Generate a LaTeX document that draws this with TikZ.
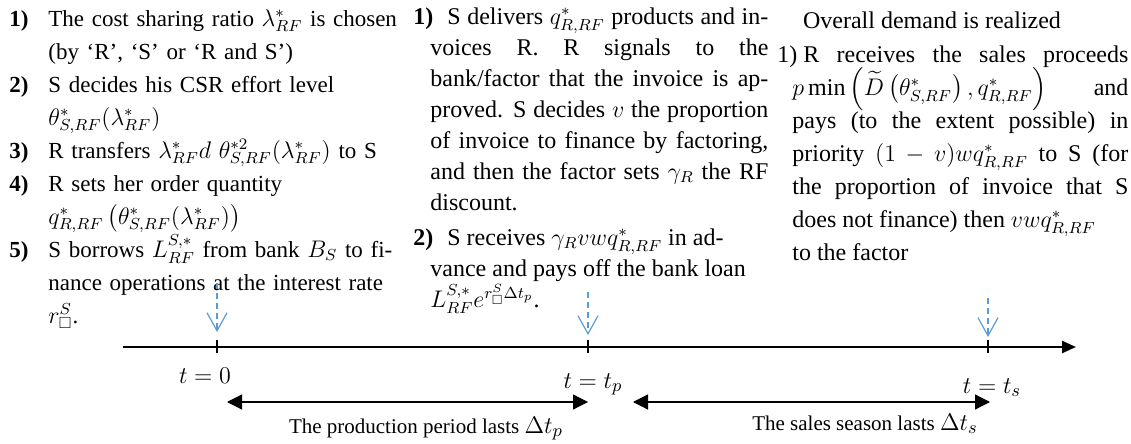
\documentclass[tikz,border=0pt]{standalone}
\usepackage{amsmath,amssymb}
\usepackage{fontspec}
\setmainfont{Liberation Serif}
\usetikzlibrary{arrows.meta, positioning}
\definecolor{eventblue}{RGB}{91,155,213}
\newcommand{\stepitem}[3]{\noindent\hangindent=#2\hangafter=1\makebox[#1][l]{#3}}

\begin{document}
\begin{tikzpicture}[x=0.5pt, y=-0.5pt,
        coltext/.style={inner sep=0pt, anchor=north west},
        axis/.style={line width=1.2pt, -{Triangle[length=7pt,width=6pt]}},
        tick/.style={line width=0.6pt},
        event/.style={eventblue, line width=0.6pt, dash pattern=on 3pt off 2pt, -{Straight Barb[length=9pt,width=10pt]}},
        span/.style={line width=0.6pt, {Triangle[length=7.5pt,width=7.5pt]}-{Triangle[length=7.5pt,width=7.5pt]}},
        timelbl/.style={anchor=base, inner sep=0pt, font=\fontsize{13}{13}\selectfont},
        spanlbl/.style={anchor=base, inner sep=0pt, font=\fontsize{10.5}{12}\selectfont}]
        \useasboundingbox (0,0) rectangle (1131,444);

        \node[coltext, text width=200pt, align=left, font=\fontsize{11.5}{16.5}\selectfont] (setup) at (9,9) {%
            \stepitem{19.5pt}{19.5pt}{\textbf{1)}}The cost sharing ratio $\lambda^*_{RF}$ is chosen\newline (by `R', `S' or `R and S')\par
            \stepitem{19.5pt}{19.5pt}{\textbf{2)}}S decides his CSR effort level\newline $\theta^*_{S,RF}(\lambda^*_{RF})$\par
            \stepitem{19.5pt}{19.5pt}{\textbf{3)}}R transfers $\lambda^*_{RF}d\ \theta^{*2}_{S,RF}(\lambda^*_{RF})$ to S\par
            \stepitem{19.5pt}{19.5pt}{\textbf{4)}}R sets her order quantity\newline $q^*_{R,RF}\left(\theta^*_{S,RF}(\lambda^*_{RF})\right)$\par
            \stepitem{19.5pt}{19.5pt}{\textbf{5)}}S borrows $L^{S,*}_{RF}$ from bank $B_S$ to fi-\newline nance operations at the interest rate\newline $r^S_{\square}$.\par};

        \node[coltext, text width=177.5pt, align=justify, font=\fontsize{12}{15.5}\selectfont] (production) at (413,7) {%
            \stepitem{17pt}{8.5pt}{\textbf{1)}}S delivers $q^*_{R,RF}$ products and in-\linebreak voices R. R signals to the\linebreak bank/factor that the invoice is ap-\linebreak proved. S decides $v$ the proportion\linebreak of invoice to finance by factoring,\linebreak and then the factor sets $\gamma_R$ the RF\linebreak discount.\par
            \vspace{2pt}
            \stepitem{17pt}{8.5pt}{\textbf{2)}}S receives $\gamma_R v w q^*_{R,RF}$ in ad-\newline vance and pays off the bank loan\newline $L^{S,*}_{RF}e^{r^S_{\square}\Delta t_p}$.\par};

        \node[anchor=base, inner sep=0pt, font=\fontsize{12}{15}\selectfont] (demand) at (932,29) {Overall demand is realized};
        \node[coltext, text width=175.5pt, align=justify, font=\fontsize{12}{16.5}\selectfont] (sales) at (777,45) {%
            \stepitem{13pt}{7.5pt}{1)}R receives the sales proceeds\linebreak $p\min\left(\widetilde{D}\left(\theta^*_{S,RF}\right),q^*_{R,RF}\right)$ and\linebreak pays (to the extent possible) in\linebreak priority $(1-v)wq^*_{R,RF}$ to S (for\linebreak the proportion of invoice that S\linebreak does not finance) then $vwq^*_{R,RF}$\newline to the factor\par};

        \coordinate (start) at (123,347);
        \coordinate (end) at (1076,347);
        \coordinate (t0) at (217,347);
        \coordinate (tp) at (588,347);
        \coordinate (ts) at (988,347);
        \draw[axis] (start) -- (end);
        \draw[tick] ([yshift=3.5pt]t0) -- ([yshift=-3pt]t0);
        \draw[tick] ([yshift=3.5pt]tp) -- ([yshift=-3pt]tp);
        \draw[tick] ([yshift=3.5pt]ts) -- ([yshift=-3pt]ts);

        \coordinate (e0) at (217,283);
        \coordinate (ep) at (588,292);
        \coordinate (es) at (988,298);
        \draw[event] (e0) -- ([yshift=7.5pt]t0);
        \draw[event] (ep) -- ([yshift=6pt]tp);
        \draw[event] (es) -- ([yshift=5pt]ts);

        \node[timelbl] (lbl0) at (205,383) {$t=0$};
        \node[timelbl] (lblp) at (593,388) {$t=t_p$};
        \node[timelbl] (lbls) at (992,393) {$t=t_s$};

        \coordinate (p0) at (227,402);
        \coordinate (p1) at (588,402);
        \coordinate (s0) at (633,402);
        \coordinate (s1) at (990,402);
        \draw[span] (p0) -- (p1);
        \draw[span] (s0) -- (s1);
        \node[spanlbl] (prodlen) at (426,433) {The production period lasts {\fontsize{13}{13}\selectfont$\Delta t_p$}};
        \node[spanlbl] (salelen) at (865,430) {The sales season lasts {\fontsize{13}{13}\selectfont$\Delta t_s$}};
    \end{tikzpicture}
\end{document}
